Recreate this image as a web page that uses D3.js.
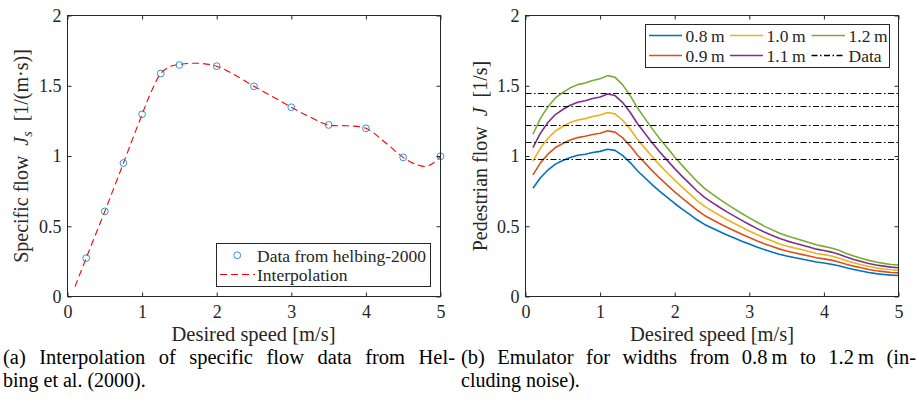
<!DOCTYPE html>
<html><head><meta charset="utf-8">
<script src="https://cdn.jsdelivr.net/npm/d3@7"></script>
<style>body{margin:0;background:#fff}svg{display:block} text{font-family:"Liberation Serif","Tinos","DejaVu Serif",serif}</style>
</head><body><svg id="c" width="919" height="410"></svg>
<script>
// ---------- data (a) ----------
const helbingSpeed = [0.25,0.5,0.75,1,1.25,1.5,2,2.5,3,3.5,4,4.5,5];
const helbingFlow  = [0.273,0.606,0.950,1.297,1.587,1.648,1.639,1.496,1.347,1.221,1.197,0.990,0.998];
const interpSpeed = [0.1,0.25,0.5,0.75,1.0,1.125,1.25,1.375,1.5,1.75,2.0,2.25,2.5,2.75,3.0,3.25,3.5,3.75,4.0,4.25,4.5,4.65,4.8,4.9,5.0];
const interpFlow  = [0.07,0.273,0.606,0.950,1.297,1.460,1.587,1.637,1.652,1.660,1.639,1.575,1.496,1.422,1.347,1.278,1.221,1.215,1.197,1.100,0.990,0.945,0.925,0.948,0.998];
// ---------- data (b) ----------
const emuSpeed = [0.1,0.2,0.3,0.4,0.5,0.6,0.7,0.8,0.9,1.0,1.1,1.2,1.3,1.4,1.5,1.6,1.7,1.8,1.9,2.0,2.1,2.2,2.3,2.4,2.5,2.6,2.7,2.8,2.9,3.0,3.1,3.2,3.3,3.4,3.5,3.6,3.7,3.8,3.9,4.0,4.1,4.2,4.3,4.4,4.5,4.6,4.7,4.8,4.9,5.0];
const flow08 = [0.770,0.845,0.900,0.942,0.968,0.990,1.005,1.013,1.025,1.033,1.048,1.040,1.005,0.955,0.895,0.845,0.795,0.748,0.705,0.662,0.622,0.584,0.546,0.513,0.487,0.462,0.438,0.416,0.394,0.373,0.353,0.334,0.317,0.301,0.288,0.277,0.267,0.256,0.245,0.238,0.230,0.219,0.204,0.192,0.181,0.171,0.163,0.157,0.152,0.149];
const flow09 = [0.866,0.951,1.013,1.060,1.089,1.114,1.131,1.140,1.153,1.162,1.179,1.170,1.131,1.074,1.007,0.951,0.894,0.842,0.793,0.745,0.700,0.657,0.614,0.577,0.548,0.520,0.493,0.468,0.443,0.420,0.397,0.376,0.357,0.339,0.324,0.312,0.300,0.288,0.276,0.268,0.259,0.246,0.230,0.216,0.204,0.192,0.183,0.177,0.171,0.168];
const flow10 = [0.963,1.056,1.125,1.178,1.210,1.238,1.256,1.266,1.281,1.291,1.310,1.300,1.256,1.194,1.119,1.056,0.994,0.935,0.881,0.828,0.778,0.730,0.683,0.641,0.609,0.578,0.548,0.520,0.493,0.466,0.441,0.418,0.396,0.376,0.360,0.346,0.334,0.320,0.306,0.298,0.288,0.274,0.255,0.240,0.226,0.214,0.204,0.196,0.190,0.186];
const flow11 = [1.059,1.162,1.238,1.295,1.331,1.361,1.382,1.393,1.409,1.420,1.441,1.430,1.382,1.313,1.231,1.162,1.093,1.029,0.969,0.910,0.855,0.803,0.751,0.705,0.670,0.635,0.602,0.572,0.542,0.513,0.485,0.459,0.436,0.414,0.396,0.381,0.367,0.352,0.337,0.327,0.316,0.301,0.281,0.264,0.249,0.235,0.224,0.216,0.209,0.205];
const flow12 = [1.155,1.268,1.350,1.413,1.452,1.485,1.508,1.520,1.538,1.550,1.572,1.560,1.508,1.433,1.343,1.268,1.193,1.122,1.058,0.993,0.933,0.876,0.819,0.770,0.731,0.693,0.657,0.624,0.591,0.560,0.530,0.501,0.476,0.452,0.432,0.416,0.401,0.384,0.368,0.357,0.345,0.329,0.306,0.288,0.272,0.257,0.245,0.236,0.228,0.224];
const widthLabels = ["0.8\u2009m","0.9\u2009m","1.0\u2009m","1.1\u2009m","1.2\u2009m"];
const dataLevels = [0.980,1.103,1.222,1.359,1.450];
// ---------- ticks ----------
const xTickValues = [0,1,2,3,4,5];
const xTickLabels = ["0","1","2","3","4","5"];
const yTickValues = [0,0.5,1,1.5,2];
const yTickLabels = ["0","0.5","1","1.5","2"];

const colors = ["#0072BD","#D95319","#EDB120","#7E2F8E","#77AC30"];
const FONT = '"Liberation Serif","Tinos","DejaVu Serif",serif';
const AX = "#262626";

const svg = d3.select("#c");
svg.append("rect").attr("width",919).attr("height",410).attr("fill","#fff");

function axesFrame(x, y) {
  const g = svg.append("g");
  const [x0,x1] = x.range(), [y0,y1] = [y.range()[1], y.range()[0]];
  const style = sel => {
    sel.attr("font-family",null).attr("font-size",null);
    sel.select(".domain").remove();
    sel.selectAll("line").attr("stroke",AX).attr("stroke-width",1);
    sel.selectAll("text").attr("fill",AX).style("font-family",FONT).style("font-size","18px");
  };
  g.append("g").attr("transform",`translate(0,${y1})`)
    .call(d3.axisBottom(x).tickValues(xTickValues).tickFormat((d,i)=>xTickLabels[i]).tickSizeInner(-4).tickSizeOuter(0).tickPadding(8.5)).call(style);
  g.append("g").attr("transform",`translate(0,${y0})`)
    .call(d3.axisTop(x).tickValues(xTickValues).tickFormat("").tickSizeInner(-4).tickSizeOuter(0)).call(style);
  g.append("g").attr("transform",`translate(${x0},0)`)
    .call(d3.axisLeft(y).tickValues(yTickValues).tickFormat((d,i)=>yTickLabels[i]).tickSizeInner(-4).tickSizeOuter(0).tickPadding(6)).call(style);
  g.append("g").attr("transform",`translate(${x1},0)`)
    .call(d3.axisRight(y).tickValues(yTickValues).tickFormat("").tickSizeInner(-4).tickSizeOuter(0)).call(style);
  g.append("rect").attr("x",x0).attr("y",y0).attr("width",x1-x0).attr("height",y1-y0)
    .attr("fill","none").attr("stroke",AX).attr("stroke-width",1);
  return g;
}

function txt(x, y, s, size, anchor) {
  return svg.append("text").attr("x",x).attr("y",y).attr("text-anchor",anchor||"start")
    .style("font-family",FONT).style("font-size",size+"px").attr("fill",AX).text(s);
}

// ================= (a) =================
const xA = d3.scaleLinear().domain([0,5]).range([67.5,440.5]);
const yA = d3.scaleLinear().domain([0,2]).range([296.5,15.5]);

svg.append("path")
  .datum(interpSpeed.map((s,i)=>[s,interpFlow[i]]))
  .attr("d", d3.line().x(d=>xA(d[0])).y(d=>yA(d[1])).curve(d3.curveCatmullRom.alpha(0.5)))
  .attr("fill","none").attr("stroke","#ff0000").attr("stroke-width",1.1).attr("stroke-dasharray","7,4");

svg.append("g").selectAll("circle").data(helbingSpeed.map((s,i)=>[s,helbingFlow[i]])).join("circle")
  .attr("cx",d=>xA(d[0])).attr("cy",d=>yA(d[1])).attr("r",3.4)
  .attr("fill","none").attr("stroke","#1f86d0").attr("stroke-width",0.9);

axesFrame(xA, yA);

// labels (a)
txt(253.5, 341, "Desired speed [m/s]", 20.5, "middle");
{
  const t = svg.append("text").attr("transform","translate(28,156) rotate(-90)").attr("text-anchor","middle")
    .style("font-family",FONT).style("font-size","20px").attr("fill",AX);
  t.append("tspan").text("Specific flow\u2002");
  t.append("tspan").style("font-style","italic").text("J");
  t.append("tspan").style("font-style","italic").style("font-size","14px").attr("dy",4).text("s");
  t.append("tspan").attr("dy",-4).text("\u2002[1/(m\u00b7s)]");
}
// legend (a)
svg.append("rect").attr("x",216.5).attr("y",243.5).attr("width",214).attr("height",43)
  .attr("fill","#fff").attr("stroke",AX).attr("stroke-width",1);
svg.append("circle").attr("cx",237.3).attr("cy",255.3).attr("r",3.4).attr("fill","none").attr("stroke","#1f86d0").attr("stroke-width",0.9);
txt(257, 261.5, "Data from helbing-2000", 17.5);
svg.append("line").attr("x1",220).attr("x2",255).attr("y1",274.5).attr("y2",274.5)
  .attr("stroke","#ff0000").attr("stroke-width",1.1).attr("stroke-dasharray","7,4");
txt(257, 280.5, "Interpolation", 17.5);

// ================= (b) =================
const xB = d3.scaleLinear().domain([0,5]).range([525.5,898.5]);
const yB = d3.scaleLinear().domain([0,2]).range([296.5,15.5]);
const series = [flow08, flow09, flow10, flow11, flow12];
const lineB = d3.line().x((d,i)=>xB(emuSpeed[i])).y(d=>yB(d));
series.forEach((s,k)=>{
  svg.append("path").datum(s).attr("d",lineB).attr("fill","none")
    .attr("stroke",colors[k]).attr("stroke-width",1.6).attr("stroke-linejoin","round");
});
svg.append("g").selectAll("line").data(dataLevels).join("line")
  .attr("x1",xB(0)).attr("x2",xB(5)).attr("y1",d=>Math.round(yB(d))+0.5).attr("y2",d=>Math.round(yB(d))+0.5)
  .attr("stroke","#000").attr("stroke-width",1).attr("stroke-dasharray","6,2.5,1.5,2.5");

axesFrame(xB, yB);

txt(712, 341, "Desired speed [m/s]", 20.5, "middle");
{
  const t = svg.append("text").attr("transform","translate(487,156) rotate(-90)").attr("text-anchor","middle")
    .style("font-family",FONT).style("font-size","20px").attr("fill",AX);
  t.append("tspan").text("Pedestrian flow\u2002");
  t.append("tspan").style("font-style","italic").text("J");
  t.append("tspan").text("\u2002[1/s]");
}
// legend (b)
svg.append("rect").attr("x",645.5).attr("y",24.5).attr("width",244).attr("height",43)
  .attr("fill","#fff").attr("stroke",AX).attr("stroke-width",1);
const legCols = [[649,682,685.5],[730,763,766.5],[811.5,845,848.5]];
const legRows = [35.5,55.5];
const legItems = widthLabels.map((l,i)=>({label:l,color:colors[i],dash:null})).concat([{label:"Data",color:"#000",dash:"6,2.5,1.5,2.5"}]);
legItems.forEach((it,i)=>{
  const c = legCols[Math.floor(i/2)], r = legRows[i%2];
  const ln = svg.append("line").attr("x1",c[0]).attr("x2",c[1]).attr("y1",r).attr("y2",r)
    .style("stroke",it.color).attr("stroke-width",1.6);
  if (it.dash) ln.attr("stroke-dasharray",it.dash);
  txt(c[2], r+6, it.label, 17.5);
});

// ================= captions =================
function caption(x, y, s, size, width) {
  const t = txt(x, y, s, size);
  t.attr("fill","#000");
  if (width) {
    const n = (s.match(/ /g)||[]).length;
    const len = t.node().getComputedTextLength();
    t.attr("word-spacing", ((width-len)/n).toFixed(2));
  }
}
caption(3, 364, "(a) Interpolation of specific flow data from Hel-", 20.5, 452);
caption(3, 386.5, "bing et al. (2000).", 20);
caption(461, 364, "(b) Emulator for widths from 0.8\u2009m to 1.2\u2009m (in-", 20.5, 455);
caption(461, 386.5, "cluding noise).", 20);
</script></body></html>
